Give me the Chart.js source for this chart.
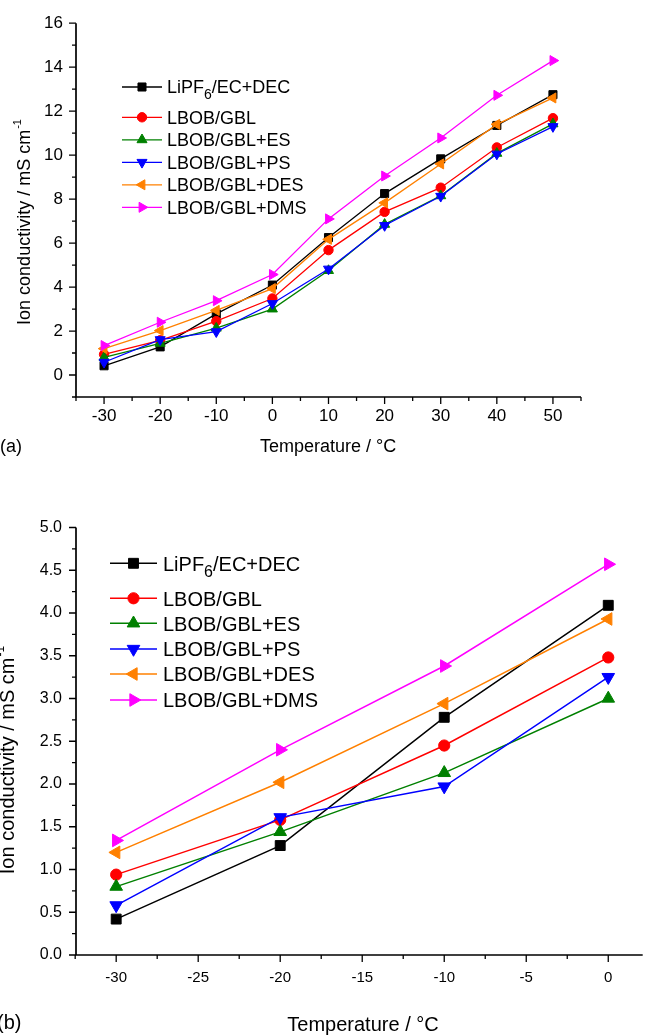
<!DOCTYPE html>
<html>
<head>
<meta charset="utf-8">
<script src="https://cdn.jsdelivr.net/npm/chart.js@4.4.1/dist/chart.umd.min.js"></script>
<style>
  html, body { margin: 0; padding: 0; background: #fff; overflow: hidden; }
  #wrapA { position: absolute; left: 0; top: 0; width: 651px; height: 470px; }
  #wrapB { position: absolute; left: 0; top: 470px; width: 651px; height: 565px; }
</style>
</head>
<body>
<div id="wrapA"><canvas id="chartA" width="651" height="470"></canvas></div>
<div id="wrapB"><canvas id="chartB" width="651" height="565"></canvas></div>
<script>
// Ion conductivity vs temperature, two panels (a) full range, (b) low temperature

// --- Data ---
const seriesNames = ['LiPF6/EC+DEC', 'LBOB/GBL', 'LBOB/GBL+ES', 'LBOB/GBL+PS', 'LBOB/GBL+DES', 'LBOB/GBL+DMS'];

// panel (a)
const tempsA = [-30, -20, -10, 0, 10, 20, 30, 40, 50];
const lipf6A = [0.42, 1.28, 2.78, 4.09, 6.25, 8.25, 9.83, 11.35, 12.75];
const gblA   = [0.94, 1.58, 2.45, 3.48, 5.68, 7.42, 8.52, 10.35, 11.68];
const esA    = [0.80, 1.44, 2.13, 3.00, 4.75, 6.85, 8.15, 10.08, 11.42];
const psA    = [0.58, 1.61, 1.97, 3.25, 4.82, 6.80, 8.13, 10.05, 11.30];
const desA   = [1.20, 2.02, 2.94, 3.93, 6.17, 7.83, 9.60, 11.40, 12.60];
const dmsA   = [1.34, 2.40, 3.38, 4.57, 7.10, 9.05, 10.78, 12.72, 14.30];

// panel (b)
const tempsB = [-30, -20, -10, 0];
const lipf6B = [0.42, 1.28, 2.78, 4.09];
const gblB   = [0.94, 1.58, 2.45, 3.48];
const esB    = [0.80, 1.44, 2.13, 3.00];
const psB    = [0.58, 1.61, 1.97, 3.25];
const desB   = [1.20, 2.02, 2.94, 3.93];
const dmsB   = [1.34, 2.40, 3.38, 4.57];

// --- Ticks ---
const xTicksA = [-30, -20, -10, 0, 10, 20, 30, 40, 50];
const xMinorA = [-35, -25, -15, -5, 5, 15, 25, 35, 45, 55];
const yTicksA = [0, 2, 4, 6, 8, 10, 12, 14, 16];
const yMinorA = [-1, 1, 3, 5, 7, 9, 11, 13, 15];

const xTicksB = [-30, -25, -20, -15, -10, -5, 0];
const xMinorB = [-32.5, -27.5, -22.5, -17.5, -12.5, -7.5, -2.5];
const yTicksB = [0, 0.5, 1, 1.5, 2, 2.5, 3, 3.5, 4, 4.5, 5];
const yMinorB = [0.25, 0.75, 1.25, 1.75, 2.25, 2.75, 3.25, 3.75, 4.25, 4.75];

// --- Styles ---
const FONT = '"Liberation Sans", Arial, Helvetica, sans-serif';
const seriesColors = ['#000000', '#ff0000', '#008000', '#0000ff', '#ff8000', '#ff00ff'];
const markerStyles = ['rect', 'circle', 'triangle', 'triangle', 'triangle', 'triangle'];
const markerRotations = [0, 0, 0, 180, 270, 90];

function buildDatasets(temps, valueLists, sizes, lineWidth) {
    return valueLists.map(function (vals, i) {
        return {
            label: seriesNames[i],
            data: temps.map(function (t, j) { return { x: t, y: vals[j] }; }),
            borderColor: seriesColors[i],
            backgroundColor: seriesColors[i],
            pointBackgroundColor: seriesColors[i],
            pointBorderColor: seriesColors[i],
            pointBorderWidth: 1,
            pointStyle: markerStyles[i],
            rotation: markerRotations[i],
            pointRotation: markerRotations[i],
            pointRadius: sizes[i],
            borderWidth: lineWidth,
            tension: 0,
            fill: false,
            order: valueLists.length - i
        };
    });
}

// label with subscript 6 in LiPF6
function drawSeriesLabel(ctx, text, x, y, size) {
    ctx.textAlign = 'left';
    ctx.textBaseline = 'alphabetic';
    const base = y + size * 0.36;
    ctx.font = size + 'px ' + FONT;
    if (text.indexOf('LiPF6') === 0) {
        ctx.fillText('LiPF', x, base);
        let cx = x + ctx.measureText('LiPF').width;
        ctx.font = Math.round(size * 0.8) + 'px ' + FONT;
        ctx.fillText('6', cx, base + size * 0.3);
        cx += ctx.measureText('6').width;
        ctx.font = size + 'px ' + FONT;
        ctx.fillText(text.slice(5), cx, base);
    } else {
        ctx.fillText(text, x, base);
    }
}

// axes, ticks, titles and legend drawn Origin-style
const decorPlugin = {
    id: 'decor',
    afterDraw(chart, args, o) {
        const ctx = chart.ctx;
        const xs = chart.scales.x;
        const ys = chart.scales.y;
        const area = chart.chartArea;
        ctx.save();

        // ticks
        ctx.strokeStyle = '#000';
        ctx.lineWidth = 1.3;
        ctx.beginPath();
        o.xMajor.forEach(function (v) {
            const px = xs.getPixelForValue(v);
            ctx.moveTo(px, area.bottom); ctx.lineTo(px, area.bottom + o.majorLen);
        });
        o.xMinor.forEach(function (v) {
            const px = xs.getPixelForValue(v);
            if (px > area.right + 1) return;
            ctx.moveTo(px, area.bottom); ctx.lineTo(px, area.bottom + o.minorLen);
        });
        o.yMajor.forEach(function (v) {
            const py = ys.getPixelForValue(v);
            ctx.moveTo(area.left, py); ctx.lineTo(area.left - o.majorLen, py);
        });
        o.yMinor.forEach(function (v) {
            const py = ys.getPixelForValue(v);
            ctx.moveTo(area.left, py); ctx.lineTo(area.left - o.minorLen, py);
        });
        ctx.stroke();

        // axis lines
        ctx.lineWidth = 1.7;
        ctx.beginPath();
        ctx.moveTo(area.left, area.top);
        ctx.lineTo(area.left, area.bottom);
        ctx.lineTo(area.right, area.bottom);
        ctx.stroke();

        // legend
        const lg = o.legend;
        lg.rows.forEach(function (ry, i) {
            ctx.strokeStyle = seriesColors[i];
            ctx.fillStyle = seriesColors[i];
            ctx.lineWidth = lg.lineWidth;
            ctx.beginPath();
            ctx.moveTo(lg.x1, ry); ctx.lineTo(lg.x2, ry);
            ctx.stroke();
            ctx.lineWidth = 1;
            Chart.helpers.drawPoint(ctx, {
                pointStyle: markerStyles[i],
                rotation: markerRotations[i],
                radius: lg.sizes[i],
                borderWidth: 1
            }, (lg.x1 + lg.x2) / 2, ry);
            ctx.fillStyle = '#000';
            drawSeriesLabel(ctx, seriesNames[i], lg.textX, ry, lg.fontSize);
        });

        // x title
        ctx.fillStyle = '#000';
        ctx.font = o.titleSize + 'px ' + FONT;
        ctx.textAlign = 'center';
        ctx.textBaseline = 'middle';
        ctx.fillText('Temperature / \u00B0C', o.xTitle.x, o.xTitle.y);

        // panel label
        ctx.textAlign = 'left';
        ctx.fillText(o.panel.text, o.panel.x, o.panel.y);

        // y title with superscript
        ctx.save();
        ctx.translate(o.yTitle.x, o.yTitle.y);
        ctx.rotate(-Math.PI / 2);
        const mainText = 'Ion conductivity / mS cm';
        const supText = '-1';
        ctx.font = o.titleSize + 'px ' + FONT;
        const w1 = ctx.measureText(mainText).width;
        const supSize = Math.round(o.titleSize * 0.6);
        ctx.font = supSize + 'px ' + FONT;
        const w2 = ctx.measureText(supText).width;
        const start = -(w1 + w2 + 1) / 2;
        const base = o.titleSize * 0.36;
        ctx.textAlign = 'left';
        ctx.textBaseline = 'alphabetic';
        ctx.font = o.titleSize + 'px ' + FONT;
        ctx.fillText(mainText, start, base);
        ctx.font = supSize + 'px ' + FONT;
        ctx.fillText(supText, start + w1 + 1, base - o.titleSize * 0.5);
        ctx.restore();

        ctx.restore();
    }
};

function makeChart(canvasId, cfg) {
    const ctx = document.getElementById(canvasId).getContext('2d');
    return new Chart(ctx, {
        type: 'line',
        data: { datasets: cfg.datasets },
        options: {
            responsive: false,
            animation: false,
            events: [],
            layout: { padding: { top: cfg.padTop, right: cfg.padRight, left: 0, bottom: 0 } },
            plugins: {
                legend: { display: false },
                tooltip: { enabled: false },
                decor: cfg.decor
            },
            scales: {
                x: {
                    type: 'linear',
                    bounds: 'data',
                    min: cfg.xMin,
                    max: cfg.xMax,
                    grid: { display: false, drawTicks: false },
                    border: { display: false },
                    ticks: {
                        color: '#000',
                        font: { family: FONT, size: cfg.xTickSize },
                        padding: cfg.xPad,
                        maxRotation: 0,
                        autoSkip: false,
                        callback: function (v) { return String(v); }
                    },
                    afterBuildTicks: function (s) { s.ticks = cfg.xTicks.map(function (v) { return { value: v }; }); },
                    afterFit: function (s) { s.height = cfg.xAxisHeight; }
                },
                y: {
                    type: 'linear',
                    bounds: 'data',
                    min: cfg.yMin,
                    max: cfg.yMax,
                    grid: { display: false, drawTicks: false },
                    border: { display: false },
                    ticks: {
                        color: '#000',
                        font: { family: FONT, size: cfg.yTickSize },
                        padding: cfg.yPad,
                        autoSkip: false,
                        callback: function (v) { return cfg.yFormat(v); }
                    },
                    afterBuildTicks: function (s) { s.ticks = cfg.yTicks.map(function (v) { return { value: v }; }); },
                    afterFit: function (s) { s.width = cfg.yAxisWidth; }
                }
            }
        },
        plugins: [decorPlugin]
    });
}

// --- Panel (a) ---
makeChart('chartA', {
    datasets: buildDatasets(tempsA, [lipf6A, gblA, esA, psA, desA, dmsA], [5.7, 4.7, 5.8, 5.8, 5.8, 5.8], 1.3),
    padTop: 22, padRight: 70,
    xMin: -35, xMax: 55, yMin: -1, yMax: 16,
    xTicks: xTicksA, yTicks: yTicksA,
    yFormat: function (v) { return String(v); },
    xTickSize: 17, yTickSize: 17, xPad: 9, yPad: 13,
    xAxisHeight: 73, yAxisWidth: 76,
    decor: {
        xMajor: xTicksA, xMinor: xMinorA, yMajor: yTicksA, yMinor: yMinorA,
        majorLen: 7, minorLen: 4,
        titleSize: 18,
        xTitle: { x: 328, y: 447 },
        yTitle: { x: 24, y: 222 },
        panel: { text: '(a)', x: 0, y: 447 },
        legend: {
            x1: 122, x2: 162, textX: 167, fontSize: 18, lineWidth: 1.3,
            sizes: [5.7, 4.7, 5.8, 5.8, 5.8, 5.8],
            rows: [87, 117.3, 139.8, 162.3, 184.8, 207.3]
        }
    }
});

// --- Panel (b) ---
makeChart('chartB', {
    datasets: buildDatasets(tempsB, [lipf6B, gblB, esB, psB, desB, dmsB], [7, 5.6, 7.3, 7.3, 7.3, 7.3], 1.5),
    padTop: 57.5, padRight: 0,
    xMin: -32.45, xMax: 2.1, yMin: 0, yMax: 5,
    xTicks: xTicksB, yTicks: yTicksB,
    yFormat: function (v) { return v.toFixed(1); },
    xTickSize: 15, yTickSize: 16, xPad: 14, yPad: 14,
    xAxisHeight: 80, yAxisWidth: 76,
    decor: {
        xMajor: xTicksB, xMinor: xMinorB, yMajor: yTicksB, yMinor: yMinorB,
        majorLen: 7, minorLen: 4,
        titleSize: 20,
        xTitle: { x: 363, y: 555 },
        yTitle: { x: 7, y: 290 },
        panel: { text: '(b)', x: -3, y: 553 },
        legend: {
            x1: 110, x2: 157, textX: 163, fontSize: 20, lineWidth: 1.5,
            sizes: [7, 5.6, 7.3, 7.3, 7.3, 7.3],
            rows: [93.3, 128.3, 153.3, 179, 204, 230]
        }
    }
});
</script>
</body>
</html>
